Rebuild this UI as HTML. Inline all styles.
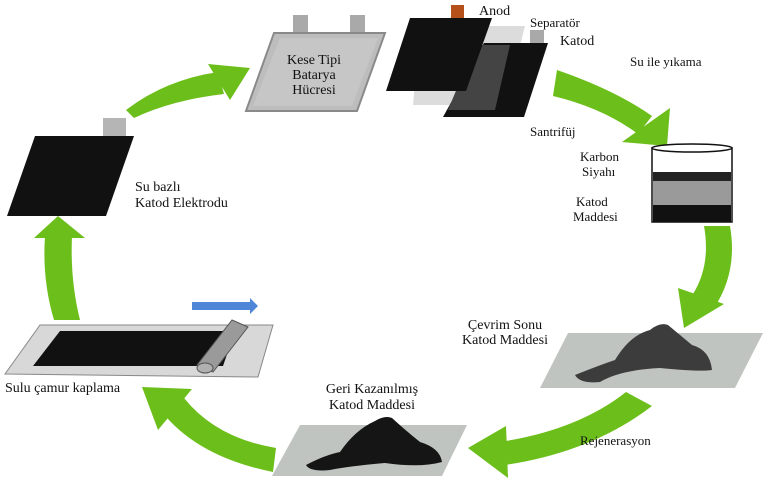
<!DOCTYPE html>
<html><head><meta charset="utf-8"><style>
html,body{margin:0;padding:0;background:#fff;}
svg{display:block;}
text{font-family:"Liberation Serif",serif;fill:#111;}
</style></head><body>
<svg width="768" height="482" viewBox="0 0 768 482" xmlns="http://www.w3.org/2000/svg">
<g fill="#6cbf1a">
<path d="M45,236 L72,236 Q70,280 80,320 L54,320 Q42,280 45,236 Z"/>
<polygon points="58,216 34,238 85,238"/>
<path d="M126,110 Q165,80 218,72 L224,94 Q172,100 134,118 Z"/>
<polygon points="250,68 208,64 230,100"/>
<path d="M557,70 Q615,90 652,116 L638,134 Q603,108 553,96 Z"/>
<polygon points="667,146 622,142 670,108"/>
<path d="M704,226 L730,226 Q738,272 714,308 L693,294 Q711,265 704,226 Z"/>
<polygon points="684,328 678,288 724,304"/>
<path d="M626,392 L652,406 Q592,452 505,465 L500,442 Q578,430 626,392 Z"/>
<polygon points="468,448 506,426 508,478"/>
<path d="M276,448 L273,472 Q198,457 162,412 L184,398 Q216,438 276,448 Z"/>
<polygon points="142,387 192,389 158,430"/>
</g>
<rect x="293" y="15" width="15" height="20" fill="#a9a9a9"/>
<rect x="350" y="15" width="15" height="20" fill="#a9a9a9"/>
<polygon points="274,33 385,33 357,111 246,111" fill="#bdbdbd" stroke="#8a8a8a" stroke-width="2"/>
<polygon points="280,38 378,38 352,106 253,106" fill="#c6c6c6"/>
<text x="314" y="64" font-size="14" text-anchor="middle">Kese Tipi</text>
<text x="314" y="79" font-size="14" text-anchor="middle">Batarya</text>
<text x="314" y="94" font-size="14" text-anchor="middle">Hücresi</text>
<rect x="451" y="5" width="13" height="14" fill="#b5501a"/>
<polygon points="420,26 525,26 505,105 413,105" fill="#dcdcdc"/>
<rect x="530" y="30" width="14" height="14" fill="#a9a9a9"/>
<polygon points="484,43 548,43 524,117 443,117" fill="#111"/>
<polygon points="475,45 510,45 495,110 448,110" fill="#444"/>
<polygon points="410,18 492,18 466,91 386,91" fill="#111"/>
<text x="479" y="15" font-size="14">Anod</text>
<text x="530" y="27" font-size="13">Separatör</text>
<text x="560" y="45" font-size="14">Katod</text>
<text x="630" y="66" font-size="13">Su ile yıkama</text>
<text x="530" y="136" font-size="13">Santrifüj</text>
<rect x="652" y="148" width="80" height="74" fill="#fff" stroke="#111" stroke-width="1.5"/>
<rect x="653" y="172" width="78" height="9" fill="#222"/>
<rect x="653" y="181" width="78" height="24" fill="#9a9a9a"/>
<rect x="653" y="205" width="78" height="17" fill="#111"/>
<ellipse cx="692" cy="148" rx="40" ry="4" fill="#fff" stroke="#111" stroke-width="1.5"/>
<text x="580" y="161" font-size="13">Karbon</text>
<text x="582" y="176" font-size="13">Siyahı</text>
<text x="576" y="206" font-size="13">Katod</text>
<text x="573" y="221" font-size="13">Maddesi</text>
<rect x="103" y="118" width="23" height="19" fill="#b5b5b5"/>
<polygon points="35,136 134,136 106,216 7,216" fill="#111"/>
<text x="135" y="191" font-size="14">Su bazlı</text>
<text x="135" y="207" font-size="14">Katod Elektrodu</text>
<polygon points="40,325 273,325 258,377 5,374" fill="#d8d8d8" stroke="#888" stroke-width="1"/>
<polygon points="60,331 235,331 223,366 33,366" fill="#111"/>
<polygon points="192,302 250,302 250,298 258,306 250,314 250,310 192,310" fill="#4f86d8"/>
<polygon points="232,320 248,327 213,372 197,365" fill="#9a9a9a" stroke="#555" stroke-width="1"/>
<ellipse cx="205" cy="368" rx="8" ry="5" fill="#b0b0b0" stroke="#555"/>
<text x="5" y="392" font-size="14">Sulu çamur kaplama</text>
<polygon points="568,333 763,333 735,388 540,388" fill="#c0c4c0"/>
<path d="M575,375 Q600,365 615,360 Q630,335 650,330 Q660,322 668,325 Q680,335 692,345 Q710,350 712,370 Q700,372 660,368 Q620,370 600,382 Q580,384 575,375 Z" fill="#3c3c3c"/>
<text x="505" y="329" font-size="14" text-anchor="middle">Çevrim Sonu</text>
<text x="505" y="344" font-size="14" text-anchor="middle">Katod Maddesi</text>
<polygon points="300,425 467,425 442,476 272,476" fill="#c0c4c0"/>
<path d="M306,465 Q325,455 340,452 Q355,430 375,421 Q385,415 392,418 Q405,430 420,442 Q440,448 442,462 Q420,468 385,463 Q350,466 330,470 Q310,472 306,465 Z" fill="#151515"/>
<text x="372" y="393" font-size="14" text-anchor="middle">Geri Kazanılmış</text>
<text x="372" y="409" font-size="14" text-anchor="middle">Katod Maddesi</text>
<text x="580" y="445" font-size="13">Rejenerasyon</text>
</svg>
</body></html>
